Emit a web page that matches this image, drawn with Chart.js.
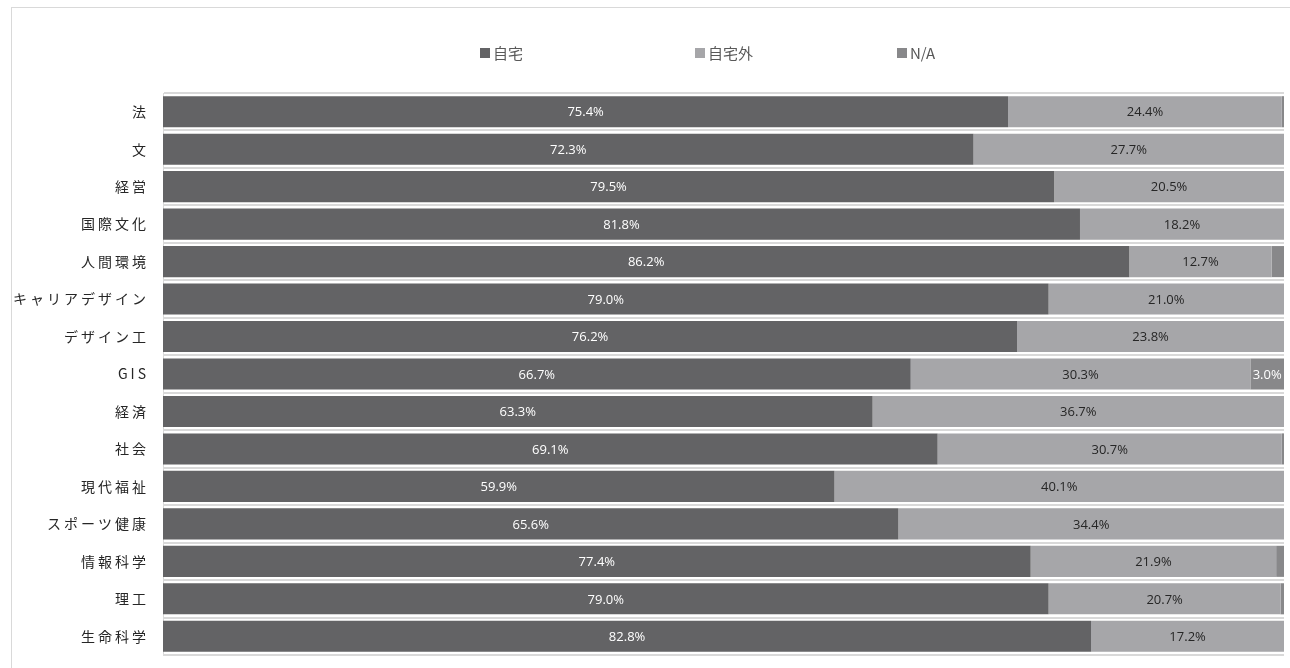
<!DOCTYPE html>
<html>
<head>
<meta charset="utf-8">
<script src="https://cdn.jsdelivr.net/npm/chart.js@4.4.1/dist/chart.umd.min.js"></script>
<style>
html,body{margin:0;padding:0;background:#fff;overflow:hidden;}
#wrap{position:absolute;left:0;top:0;width:1290px;height:668px;}
#frame{position:absolute;left:11px;top:7px;width:1300px;height:700px;border:1px solid #d9d9d9;box-sizing:border-box;}
canvas{position:absolute;left:0;top:0;}
</style>
</head>
<body>
<div id="wrap"><div id="frame"></div><canvas id="c" width="1290" height="668"></canvas></div>
<script>
const categories = ["法","文","経営","国際文化","人間環境","キャリアデザイン","デザイン工","GIS","経済","社会","現代福祉","スポーツ健康","情報科学","理工","生命科学"];
const seriesNames = ["自宅","自宅外","N/A"];
const home    = [75.4,72.3,79.5,81.8,86.2,79.0,76.2,66.7,63.3,69.1,59.9,65.6,77.4,79.0,82.8];
const away    = [24.4,27.7,20.5,18.2,12.7,21.0,23.8,30.3,36.7,30.7,40.1,34.4,21.9,20.7,17.2];
const na      = [0.2,0,0,0,1.1,0,0,3.0,0,0.2,0,0,0.7,0.3,0];
const colors = ["#636365","#a6a6a9","#88888a"];
const labelColors = ["#ffffff","#262626","#ffffff"];
const legendX = [480,695,897];

const labelPlugin = {
  id:'labels',
  afterDatasetsDraw(chart){
    const ctx = chart.ctx;
    ctx.save();
    ctx.font = '13px "Open Sans", sans-serif';
    ctx.textAlign = 'center';
    ctx.textBaseline = 'middle';
    chart.data.datasets.forEach((ds,di)=>{
      const meta = chart.getDatasetMeta(di);
      meta.data.forEach((el,i)=>{
        const v = ds.data[i];
        if (v < 2) return;
        const x = (el.x + el.base)/2;
        ctx.fillStyle = labelColors[di];
        ctx.fillText(v.toFixed(1)+'%', x, el.y+1);
      });
    });
    ctx.restore();
  }
};

const yLabelPlugin = {
  id:'ylabels',
  afterDraw(chart){
    const ctx = chart.ctx;
    const scale = chart.scales.y;
    ctx.save();
    ctx.font = '14px "Noto Sans CJK JP", sans-serif';
    ctx.fillStyle = '#262626';
    ctx.textAlign = 'right';
    ctx.textBaseline = 'middle';
    try { ctx.letterSpacing = '3px'; } catch(e){}
    categories.forEach((c,i)=>{
      const y = scale.getPixelForValue(i);
      ctx.fillText(c, 149, y);
    });
    ctx.restore();
  }
};

const legendPlugin = {
  id:'customLegend',
  afterDraw(chart){
    const ctx = chart.ctx;
    ctx.save();
    ctx.textBaseline = 'middle';
    ctx.textAlign = 'left';
    seriesNames.forEach((n,i)=>{
      const x = legendX[i];
      ctx.fillStyle = colors[i];
      ctx.fillRect(x, 48, 10, 10);
      ctx.fillStyle = '#595959';
      ctx.font = '15px "Noto Sans CJK JP", sans-serif';
      ctx.fillText(n, x+13, 53);
    });
    ctx.restore();
  }
};

new Chart(document.getElementById('c'), {
  type:'bar',
  data:{
    labels:categories,
    datasets:[
      {label:seriesNames[0], data:home, backgroundColor:colors[0]},
      {label:seriesNames[1], data:away, backgroundColor:colors[1]},
      {label:seriesNames[2], data:na, backgroundColor:colors[2]}
    ]
  },
  options:{
    indexAxis:'y',
    responsive:false,
    animation:false,
    devicePixelRatio:1,
    barPercentage:0.83,
    categoryPercentage:1,
    layout:{padding:{top:93,right:6,bottom:13,left:0}},
    plugins:{legend:{display:false},tooltip:{enabled:false}},
    scales:{
      x:{stacked:true,min:0,max:100,display:false},
      y:{
        stacked:true,
        afterFit(s){ s.width = 163; },
        ticks:{display:false},
        grid:{color:'#d9d9d9',lineWidth:2,drawTicks:false,offset:true},
        border:{color:'#d9d9d9',width:1}
      }
    }
  },
  plugins:[labelPlugin,yLabelPlugin,legendPlugin]
});
</script>
</body>
</html>
